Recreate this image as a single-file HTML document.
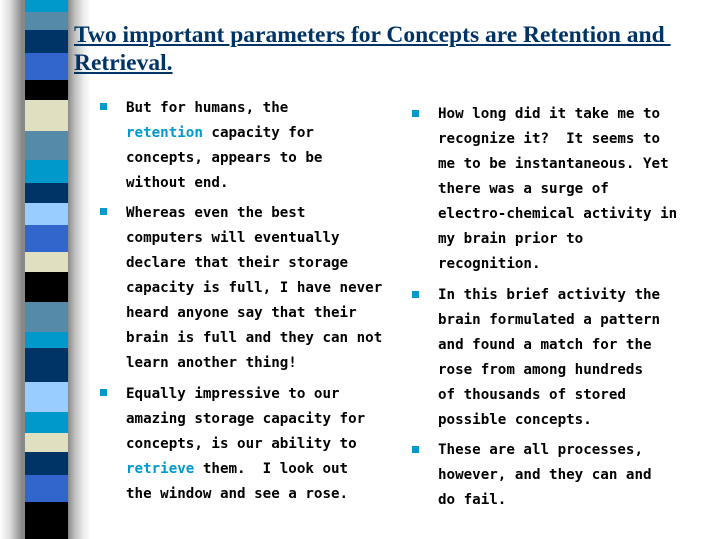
<!DOCTYPE html>
<html><head><meta charset="utf-8"><style>
body{margin:0;width:719px;height:539px;background:#fff;position:relative;overflow:hidden;font-family:"DejaVu Sans Mono","Liberation Mono",monospace;}
.shadow{position:absolute;left:0;top:0;width:90px;height:539px;background:linear-gradient(to right,#fff 0px,#ddd 10px,#888 22px,#888 68px,#bbb 74px,#eee 84px,#fff 92px);}
.bar{position:absolute;left:25px;top:0;width:43px;height:539px;}
.bar div{position:absolute;left:0;width:43px;}
.t{position:absolute;left:74px;font:bold 23.5px "Liberation Serif",serif;color:#003366;text-decoration:underline;white-space:nowrap;}
.b{position:absolute;width:7px;height:7px;background:#0099cc;}
.l{position:absolute;font-weight:bold;font-size:14.2px;white-space:pre;color:#000;line-height:25px;}
.c{color:#0099cc}
</style></head><body>
<div class="shadow"></div>
<div class="bar">
<div style="top:0;height:12px;background:#0099cc"></div>
<div style="top:12px;height:18px;background:#558aa8"></div>
<div style="top:30px;height:23px;background:#003366"></div>
<div style="top:53px;height:27px;background:#3366cc"></div>
<div style="top:80px;height:20px;background:#000"></div>
<div style="top:100px;height:31px;background:#e0e0c0"></div>
<div style="top:131px;height:29px;background:#558aa8"></div>
<div style="top:160px;height:23px;background:#0099cc"></div>
<div style="top:183px;height:20px;background:#003366"></div>
<div style="top:203px;height:22px;background:#99ccff"></div>
<div style="top:225px;height:27px;background:#3366cc"></div>
<div style="top:252px;height:20px;background:#e0e0c0"></div>
<div style="top:272px;height:30px;background:#000"></div>
<div style="top:302px;height:30px;background:#558aa8"></div>
<div style="top:332px;height:16px;background:#0099cc"></div>
<div style="top:348px;height:34px;background:#003366"></div>
<div style="top:382px;height:30px;background:#99ccff"></div>
<div style="top:412px;height:21px;background:#0099cc"></div>
<div style="top:433px;height:19px;background:#e0e0c0"></div>
<div style="top:452px;height:23px;background:#003366"></div>
<div style="top:475px;height:27px;background:#3366cc"></div>
<div style="top:502px;height:37px;background:#000"></div>
</div>
<div class="t" style="top:22px">Two important parameters for Concepts are Retention and&nbsp;</div>
<div class="t" style="top:50px">Retrieval.</div>

<div class="b" style="left:100px;top:103px"></div>
<div class="l" style="left:126px;top:96px">But for humans, the
<span class="c">retention</span> capacity for
concepts, appears to be
without end.</div>
<div class="b" style="left:100px;top:208px"></div>
<div class="l" style="left:126px;top:201px">Whereas even the best
computers will eventually
declare that their storage
capacity is full, I have never
heard anyone say that their
brain is full and they can not
learn another thing!</div>
<div class="b" style="left:100px;top:389px"></div>
<div class="l" style="left:126px;top:382px">Equally impressive to our
amazing storage capacity for
concepts, is our ability to
<span class="c">retrieve</span> them.  I look out
the window and see a rose.</div>

<div class="b" style="left:412px;top:110px"></div>
<div class="l" style="left:438px;top:102px">How long did it take me to
recognize it?  It seems to
me to be instantaneous. Yet
there was a surge of
electro-chemical activity in
my brain prior to
recognition.</div>
<div class="b" style="left:412px;top:291px"></div>
<div class="l" style="left:438px;top:283px">In this brief activity the
brain formulated a pattern
and found a match for the
rose from among hundreds
of thousands of stored
possible concepts.</div>
<div class="b" style="left:412px;top:446px"></div>
<div class="l" style="left:438px;top:438px">These are all processes,
however, and they can and
do fail.</div>
</body></html>
